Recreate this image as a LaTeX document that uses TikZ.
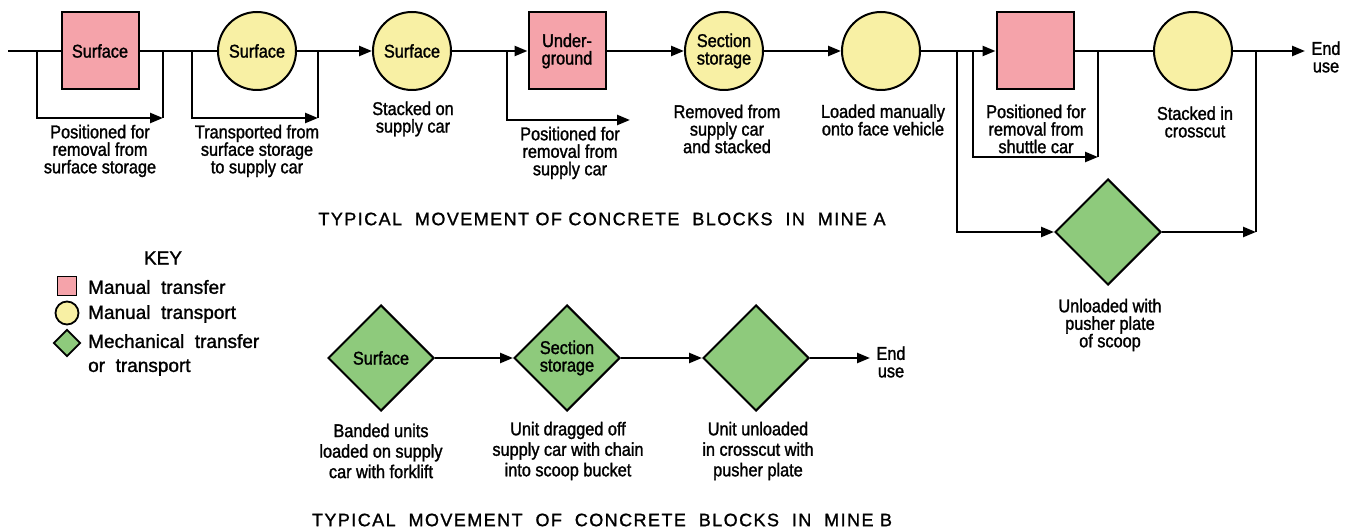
\documentclass[tikz,border=0pt]{standalone}
\usepackage{fontspec}
\setmainfont{Liberation Sans}[FakeStretch=0.88,FakeBold=1.4]
\newfontfamily\keyfont{Liberation Sans}[FakeBold=1.4]
\newfontfamily\titlefont{Liberation Sans}[LetterSpace=8,FakeBold=1.2]
\usetikzlibrary{shapes.geometric,arrows.meta}
\definecolor{pinkf}{RGB}{245,163,170}
\definecolor{yelf}{RGB}{248,240,164}
\definecolor{greenf}{RGB}{142,202,124}
\newcommand\lblfont{\fontsize{18.5}{17.5}\selectfont}
\newcommand\lblfontb{\fontsize{18.5}{20.5}\selectfont}
\begin{document}
\begin{tikzpicture}[x=1pt,y=-1pt,line width=2.4pt,
  >={Triangle[length=13pt,width=10pt]},
  sqbox/.style={draw,line width=2pt,fill=pinkf,minimum size=77pt,inner sep=0pt,align=center,font=\lblfont},
  circ/.style={circle,draw,line width=2pt,fill=yelf,minimum size=78pt,inner sep=0pt,align=center,font=\lblfont},
  dmd/.style={diamond,draw,line width=2pt,fill=greenf,minimum width=106pt,minimum height=106pt,inner sep=0pt,align=center,font=\lblfont},
  lbl/.style={align=center,font=\lblfont,inner sep=0pt},
  lblb/.style={align=center,font=\lblfontb,inner sep=0pt},
  keytxt/.style={align=left,anchor=west,inner sep=0pt,font=\keyfont\fontsize{19}{24}\selectfont},
  ttl/.style={inner sep=0pt,font=\titlefont\fontsize{18}{18}\selectfont}]
\useasboundingbox (0,0) rectangle (1353,529);
% ---------- Mine A nodes
\node[sqbox] (sq1) at (100,51) {Surface};
\node[circ] (c1) at (257,51) {Surface};
\node[circ] (c2) at (412,51) {Surface};
\node[sqbox] (sq2) at (567,51) {Under-\\ground};
\node[circ] (c3) at (724,51) {Section\\storage};
\node[circ] (c4) at (881,51) {};
\node[sqbox] (sq3) at (1035,51) {};
\node[circ] (c5) at (1193,51) {};
\node[dmd] (dm) at (1108,232) {};
\node[lbl] (endA) at (1326,57) {End\\use};
% coordinates on main line
\coordinate (s) at (8,51);
\coordinate (eA) at (1305,51);
\coordinate (p1) at (37,51);  \coordinate (q1) at (163,51);  \coordinate (q1b) at (163,118);
\coordinate (p2) at (192,51); \coordinate (q2) at (318,51);  \coordinate (q2b) at (318,118);
\coordinate (p3) at (507,51); \coordinate (q3b) at (630,120);
\coordinate (p4) at (973,51); \coordinate (q4) at (1098,51); \coordinate (q4b) at (1098,157);
\coordinate (p5) at (957,51); \coordinate (r5) at (1256,51); \coordinate (r5b) at (1256,232);
% main line
\draw (s) -- (sq1);
\draw (sq1) -- (c1);
\draw[->] (c1) -- (c2);
\draw[->] (c2) -- (sq2);
\draw[->] (sq2) -- (c3);
\draw[->] (c3) -- (c4);
\draw[->] (c4) -- (sq3);
\draw (sq3) -- (c5);
\draw[->] (c5) -- (eA);
% bypasses
\draw[->] (p1) |- (q1b); \draw (q1) -- (q1b);
\draw[->] (p2) |- (q2b); \draw (q2) -- (q2b);
\draw[->] (p3) |- (q3b);
\draw[->] (p4) |- (q4b); \draw (q4) -- (q4b);
\draw[->] (p5) |- (dm.west);
\draw[->] (dm.east) -- (r5b); \draw (r5) -- (r5b);
% labels A
\node[lbl] (t1) at (100,151) {Positioned for\\removal from\\surface storage};
\node[lbl] (t2) at (257,151) {Transported from\\surface storage\\to supply car};
\node[lbl] (t3) at (413,119) {Stacked on\\supply car};
\node[lbl] (t4) at (570,153) {Positioned for\\removal from\\supply car};
\node[lbl] (t5) at (727,129) {Removed from\\supply car\\and stacked};
\node[lbl] (t6) at (883,120) {Loaded manually\\onto face vehicle};
\node[lbl] (t7) at (1036,129) {Positioned for\\removal from\\shuttle car};
\node[lbl] (t8) at (1195,122) {Stacked in\\crosscut};
\node[lbl] (t9) at (1110,325) {Unloaded with\\pusher plate\\of scoop};
\node[ttl] (ta) at (602,219) {TYPICAL\ \ MOVEMENT OF CONCRETE\ \ BLOCKS\ \ IN\ \ MINE A};
% ---------- Key
\node[inner sep=0pt,font=\keyfont\fontsize{19}{19}\selectfont] (key) at (163,258) {KEY};
\node[draw,line width=1.8pt,fill=pinkf,minimum size=19pt,inner sep=0pt] (k1) at (67,286) {};
\node[circle,draw,line width=1.8pt,fill=yelf,minimum size=23pt,inner sep=0pt] (k2) at (67,313) {};
\node[diamond,draw,line width=1.8pt,fill=greenf,minimum width=27pt,minimum height=27pt,inner sep=0pt] (k3) at (67,343) {};
\node[keytxt] (kt1) at (87,287) {Manual\ \ transfer};
\node[keytxt] (kt2) at (87,314) {Manual\ \ transport};
\node[keytxt] (kt3) at (87,355) {Mechanical\ \ transfer\\or\ \ transport};
% ---------- Mine B
\node[dmd] (d1) at (381,358) {Surface};
\node[dmd] (d2) at (567,358) {Section\\storage};
\node[dmd] (d3) at (756,358) {};
\coordinate (eB) at (870,358);
\node[lbl] (endB) at (891,362) {End\\use};
\draw[->] (d1) -- (d2);
\draw[->] (d2) -- (d3);
\draw[->] (d3) -- (eB);
\node[lblb] (b1) at (381,451) {Banded units\\loaded on supply\\car with forklift};
\node[lblb] (b2) at (568,451) {Unit dragged off\\supply car with chain\\into scoop bucket};
\node[lblb] (b3) at (758,451) {Unit unloaded\\in crosscut with\\pusher plate};
\node[ttl] (tb) at (602,520) {TYPICAL\ \ MOVEMENT\ \ OF\ \ CONCRETE\ \ BLOCKS\ \ IN\ \ MINE B};
\end{tikzpicture}
\end{document}
